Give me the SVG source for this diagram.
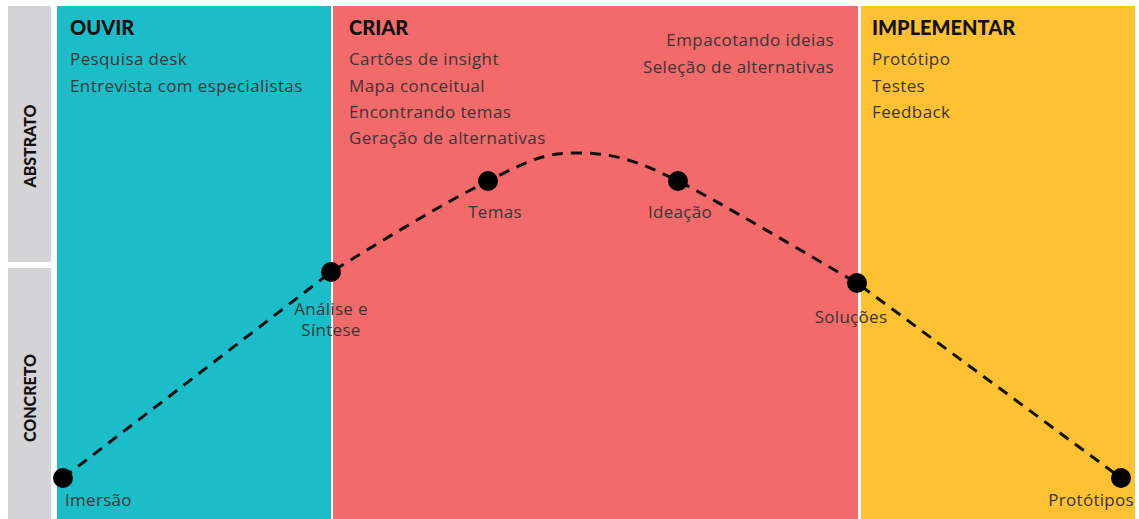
<svg xmlns="http://www.w3.org/2000/svg" width="1139" height="519" viewBox="0 0 1139 519">
<style>
.item{font-family:"Open Sans",Lato,sans-serif;font-size:17px;letter-spacing:0.4px;fill:#3b3535}
.title{font-family:Lato,"DejaVu Sans",sans-serif;font-weight:900;font-size:20px;fill:#111}
.side{font-family:Lato,"DejaVu Sans",sans-serif;font-weight:900;font-size:16px;fill:#111}
.lbl{font-family:"Open Sans",Lato,sans-serif;font-size:17px;letter-spacing:0.3px;fill:#3b3535}
.dot{fill:#000}
</style>
<rect width="1139" height="519" fill="#fff"/>
<g id="axis">
<rect x="8" y="6" width="43" height="256" fill="#d4d3d6"/>
<rect x="8" y="268" width="43" height="251" fill="#d4d3d6"/>
<text class="side" transform="translate(36,146) rotate(-90)" text-anchor="middle">ABSTRATO</text>
<text class="side" transform="translate(36,398) rotate(-90)" text-anchor="middle">CONCRETO</text>
</g>
<g id="ouvir">
<rect x="57" y="6" width="274" height="513" fill="#1bbdc9"/>
<text class="title" x="70" y="35">OUVIR</text>
<text class="item" x="70" y="65">Pesquisa desk</text>
<text class="item" x="70" y="92">Entrevista com especialistas</text>
</g>
<g id="criar">
<rect x="333" y="6" width="525" height="513" fill="#f26a6a"/>
<text class="title" x="349" y="35">CRIAR</text>
<text class="item" x="349" y="65">Cartões de insight</text>
<text class="item" x="349" y="92">Mapa conceitual</text>
<text class="item" x="349" y="118">Encontrando temas</text>
<text class="item" x="349" y="144">Geração de alternativas</text>
<text class="item" x="834" y="46" text-anchor="end">Empacotando ideias</text>
<text class="item" x="834" y="73" text-anchor="end">Seleção de alternativas</text>
</g>
<g id="implementar">
<rect x="861" y="6" width="274" height="513" fill="#fdc132"/>
<text class="title" x="872" y="35">IMPLEMENTAR</text>
<text class="item" x="872" y="65">Protótipo</text>
<text class="item" x="872" y="92">Testes</text>
<text class="item" x="872" y="118">Feedback</text>
</g>
<g id="connectors">
<path d="M63,478 L331,272 C380,242 440,205 488,181 S545,153 580,153 S640,162 678,181 S800,250 857,283 L1121,478" fill="none" stroke="#111" stroke-width="3" stroke-dasharray="11,8"/>
</g>
<g id="imersao"><circle class="dot" cx="63" cy="478" r="10"/><text class="lbl" x="65" y="506">Imersão</text></g>
<g id="analise"><circle class="dot" cx="331" cy="272" r="10"/><text class="lbl" x="331" y="315" text-anchor="middle">Análise e</text><text class="lbl" x="331" y="336" text-anchor="middle">Síntese</text></g>
<g id="temas"><circle class="dot" cx="488" cy="181" r="10"/><text class="lbl" x="495" y="218" text-anchor="middle">Temas</text></g>
<g id="ideacao"><circle class="dot" cx="678" cy="181" r="10"/><text class="lbl" x="680" y="218" text-anchor="middle">Ideação</text></g>
<g id="solucoes"><circle class="dot" cx="857" cy="283" r="10"/><text class="lbl" x="851" y="323" text-anchor="middle">Soluções</text></g>
<g id="prototipos"><circle class="dot" cx="1121" cy="478" r="10"/><text class="lbl" x="1134" y="506" text-anchor="end">Protótipos</text></g>
</svg>
